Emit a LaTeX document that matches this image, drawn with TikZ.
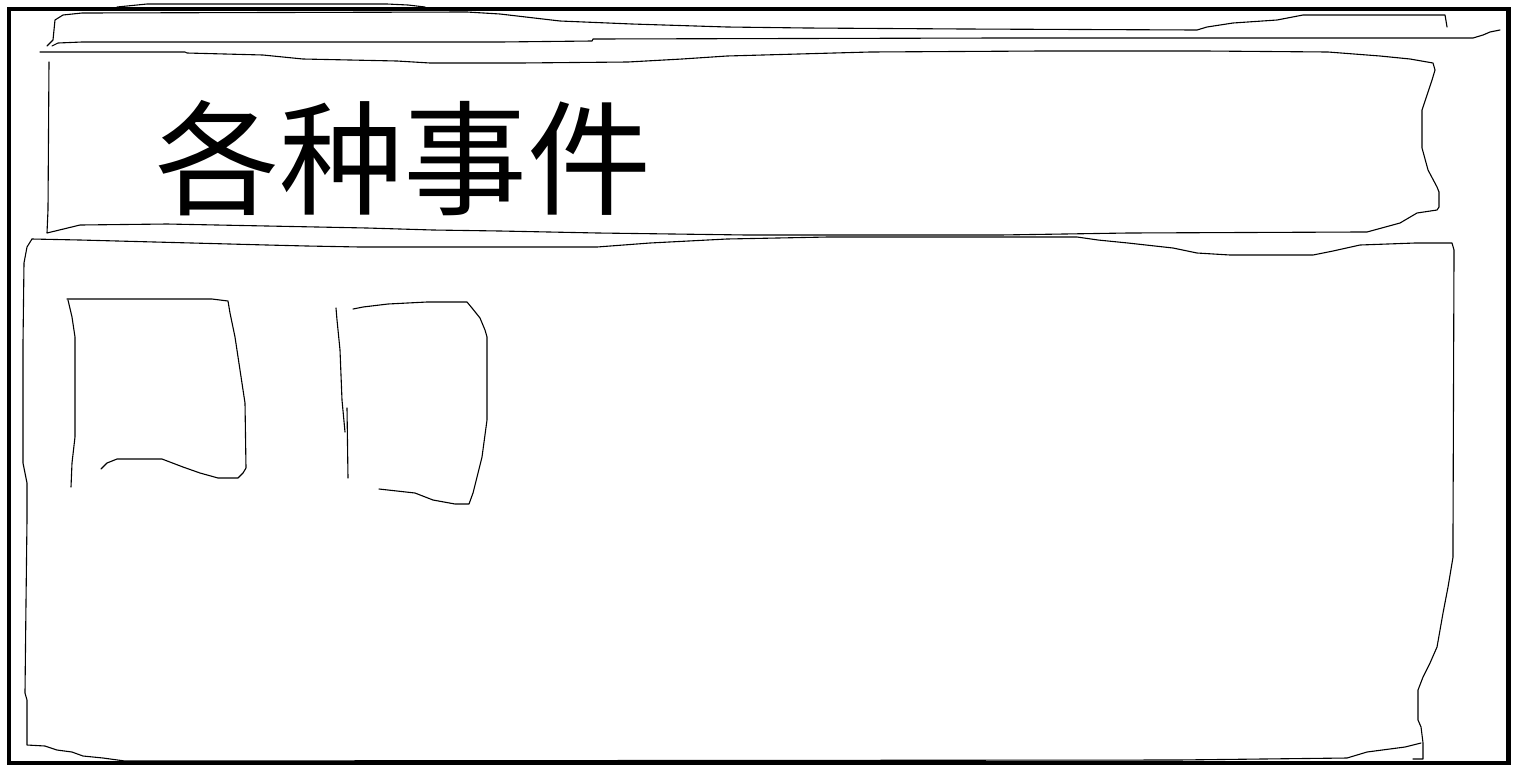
\documentclass[tikz,border=0pt]{standalone}
\usepackage{fontspec}
\newfontfamily\cjk{Noto Sans CJK SC}
\begin{document}
\begin{tikzpicture}[x=0.5pt,y=-0.5pt,
  sketch/.style={draw=black,line width=0.55pt,line join=round,line cap=round},
  frame/.style={draw=black,line width=2.3pt},
  title/.style={font=\cjk\fontsize{62}{66}\selectfont,inner sep=0pt}]
\useasboundingbox (0,0) rectangle (1518,772);
\fill[white] (0,0) rectangle (1518,772);

% stray line above the frame
\draw[sketch] (117,7) -- (147,4) -- (387,4) -- (408,5) -- (425,7);

% top strip (two wavy lines)
\draw[sketch] (47,46) -- (53,40) -- (55,20) -- (63,15) -- (82,13) -- (467,12) -- (500,14)
  -- (560,21) -- (632,24) -- (727,27) -- (807,28) -- (965,29) -- (1197,30) -- (1207,27)
  -- (1233,23) -- (1277,20) -- (1303,15) -- (1445,15) -- (1447,27);
\draw[sketch] (52,46) -- (58,43) -- (82,42) -- (500,42) -- (592,41) -- (593,39)
  -- (1000,38) -- (1473,38) -- (1483,35) -- (1490,32) -- (1500,30);

% title box
\draw[sketch] (40,52) -- (185,52) -- (187,53) -- (263,55) -- (303,59) -- (397,61)
  -- (430,63) -- (520,63) -- (628,62) -- (682,59) -- (727,56) -- (870,52) -- (1042,51)
  -- (1205,51) -- (1328,52) -- (1380,56) -- (1410,59) -- (1433,63) -- (1435,70)
  -- (1432,80) -- (1423,107) -- (1422,110) -- (1422,148) -- (1428,170) -- (1437,187)
  -- (1439,192) -- (1439,207) -- (1437,210) -- (1417,213) -- (1400,223) -- (1367,232)
  -- (1360,232) -- (1128,233) -- (1000,235) -- (747,235) -- (598,233) -- (500,231)
  -- (433,230) -- (367,228) -- (167,224) -- (80,225) -- (47,233) -- (48,210) -- (49,62);
\node[title] (t) at (403,158) {各种事件};

% content box
\draw[sketch] (32,239) -- (80,240) -- (192,243) -- (267,245) -- (307,246) -- (360,247)
  -- (597,247) -- (650,243) -- (727,239) -- (828,237) -- (1077,237) -- (1098,240)
  -- (1128,243) -- (1173,248) -- (1197,253) -- (1230,255) -- (1313,255) -- (1333,251)
  -- (1360,245) -- (1415,243) -- (1452,243) -- (1454,250) -- (1453,530) -- (1453,557)
  -- (1448,587) -- (1443,613) -- (1437,647) -- (1430,663) -- (1423,677) -- (1418,690)
  -- (1418,720) -- (1421,727) -- (1423,743) -- (1423,759) -- (1413,759);
\draw[sketch] (1421,743) -- (1405,747) -- (1367,752) -- (1347,758) -- (1177,760)
  -- (125,761) -- (103,758) -- (83,756) -- (72,752) -- (57,750) -- (45,746) -- (27,745)
  -- (27,700) -- (25,693) -- (26,603) -- (27,520) -- (27,483) -- (23,463) -- (23,343)
  -- (24,263) -- (27,247) -- (32,239);

% first inner box
\draw[sketch] (67,299) -- (212,299) -- (228,301) -- (230,313) -- (235,337) -- (240,370)
  -- (245,403) -- (246,468) -- (243,473) -- (238,478) -- (218,478) -- (200,473)
  -- (183,467) -- (162,459) -- (117,459) -- (107,463) -- (101,469);
\draw[sketch] (68,300) -- (72,317) -- (75,337) -- (75,437) -- (72,463) -- (71,487);

% second inner box
\draw[sketch] (336,308) -- (337,320) -- (340,350) -- (342,400) -- (345,432);
\draw[sketch] (347,408) -- (348,478);
\draw[sketch] (353,309) -- (363,307) -- (388,304) -- (427,302) -- (467,302) -- (472,308)
  -- (480,318) -- (485,330) -- (487,337) -- (487,420) -- (482,457) -- (478,473)
  -- (473,493) -- (469,504) -- (455,504) -- (433,500) -- (415,493) -- (388,490) -- (379,489);

% outer frame
\draw[frame] (9,9) rectangle (1508.5,763);
\end{tikzpicture}
\end{document}
